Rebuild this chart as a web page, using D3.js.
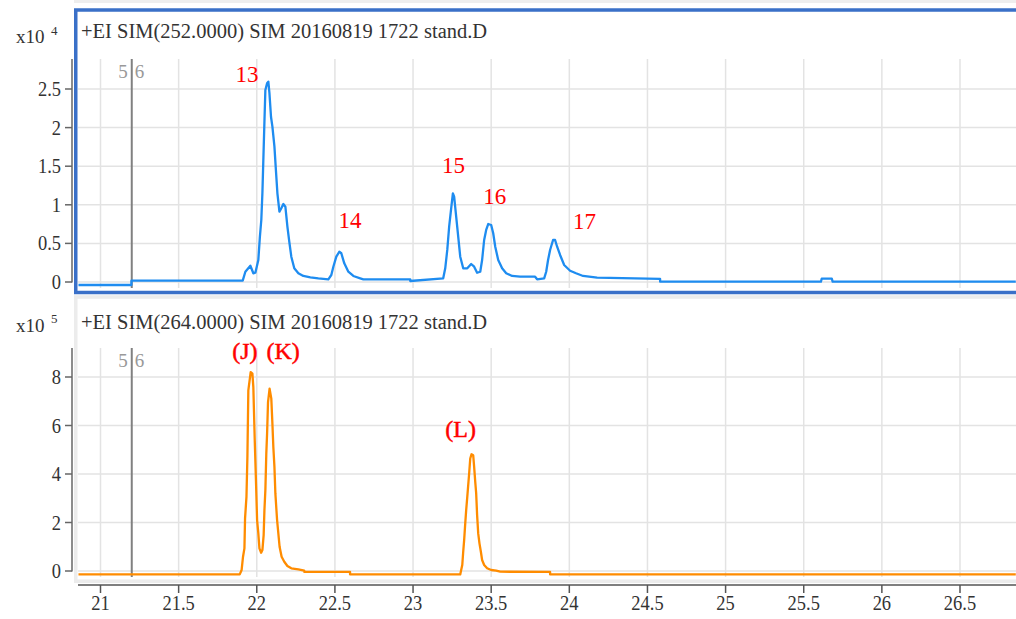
<!DOCTYPE html>
<html>
<head>
<meta charset="utf-8">
<script src="https://cdn.jsdelivr.net/npm/d3@7"></script>
<style>
  body { margin: 0; background: #fff; }
  svg text { font-family: "Liberation Serif", "Times New Roman", Times, serif; }
</style>
</head>
<body>
<svg id="canvas"></svg>
<script>
// retention time (min) and abundance for m/z 252 (x10^4)
const topTime = [20.859, 21.198, 21.198, 21.910, 21.927, 21.959, 21.978, 21.991, 22.010, 22.020,
  22.029, 22.036, 22.042, 22.049, 22.055, 22.066, 22.074, 22.081, 22.091, 22.100,
  22.113, 22.121, 22.132, 22.145, 22.157, 22.170, 22.183, 22.196, 22.208, 22.221,
  22.240, 22.266, 22.298, 22.343, 22.394, 22.458, 22.477, 22.490, 22.509, 22.528,
  22.541, 22.560, 22.586, 22.618, 22.662, 22.682, 22.982, 22.982, 23.193, 23.206,
  23.219, 23.231, 23.244, 23.255, 23.263, 23.276, 23.289, 23.302, 23.321, 23.347,
  23.372, 23.391, 23.410, 23.430, 23.442, 23.455, 23.468, 23.481, 23.500, 23.513,
  23.526, 23.545, 23.570, 23.596, 23.634, 23.685, 23.781, 23.794, 23.839, 23.852,
  23.864, 23.877, 23.896, 23.909, 23.922, 23.941, 23.967, 24.005, 24.043, 24.088,
  24.178, 24.581, 24.581, 25.610, 25.615, 25.680, 25.685, 26.857];
const topValue = [-0.039, -0.039, 0.017, 0.017, 0.133, 0.211, 0.113, 0.120, 0.285, 0.587,
  0.803, 1.153, 1.580, 2.076, 2.487, 2.574, 2.595, 2.448, 2.141, 2.012,
  1.753, 1.494, 1.149, 0.911, 0.955, 1.010, 0.975, 0.716, 0.522, 0.328,
  0.177, 0.113, 0.078, 0.061, 0.048, 0.035, 0.091, 0.198, 0.328, 0.392,
  0.372, 0.242, 0.133, 0.078, 0.048, 0.035, 0.035, 0.013, 0.048, 0.177,
  0.415, 0.716, 0.955, 1.149, 1.105, 0.846, 0.587, 0.328, 0.177, 0.177,
  0.233, 0.198, 0.120, 0.133, 0.285, 0.544, 0.674, 0.751, 0.738, 0.631,
  0.457, 0.285, 0.177, 0.113, 0.078, 0.069, 0.069, 0.035, 0.048, 0.133,
  0.285, 0.415, 0.544, 0.544, 0.457, 0.350, 0.220, 0.146, 0.113, 0.078,
  0.056, 0.040, 0.004, 0.004, 0.043, 0.043, 0.004, 0.004];

// retention time (min) and abundance for m/z 264 (x10^5)
const bottomTime = [20.859, 21.891, 21.903, 21.912, 21.921, 21.925, 21.934, 21.940, 21.946, 21.961,
  21.972, 21.978, 21.987, 21.996, 22.002, 22.010, 22.017, 22.028, 22.036, 22.044,
  22.049, 22.055, 22.061, 22.066, 22.072, 22.082, 22.093, 22.100, 22.106, 22.113,
  22.119, 22.130, 22.138, 22.146, 22.159, 22.176, 22.196, 22.221, 22.266, 22.304,
  22.304, 22.597, 22.597, 23.302, 23.308, 23.315, 23.321, 23.327, 23.334, 23.340,
  23.347, 23.353, 23.359, 23.366, 23.374, 23.385, 23.391, 23.398, 23.404, 23.410,
  23.417, 23.425, 23.434, 23.442, 23.455, 23.474, 23.500, 23.532, 23.558, 23.877,
  23.877, 26.857];
const bottomValue = [-0.14, -0.14, 0.041, 0.588, 0.934, 2.169, 3.058, 4.704, 7.449, 8.202,
  8.136, 7.584, 5.391, 3.469, 2.099, 1.551, 0.934, 0.753, 0.864, 1.481,
  2.510, 3.333, 4.844, 5.667, 6.967, 7.519, 7.107, 6.078, 5.115, 4.292,
  3.198, 2.099, 1.551, 1.000, 0.588, 0.383, 0.206, 0.111, 0.070, 0.012,
  -0.04, -0.04, -0.14, -0.14, 0.041, 0.247, 0.794, 1.276, 1.963, 2.510,
  3.058, 3.539, 4.021, 4.638, 4.815, 4.774, 4.292, 3.675, 3.198, 2.305,
  1.551, 1.140, 0.794, 0.453, 0.247, 0.111, 0.041, 0.012, -0.029, -0.04,
  -0.14, -0.14];

// peak labels (position in data units)
const topLabels = ["13", "14", "15", "16", "17"];
const topLabelTime = [21.864, 22.523, 23.186, 23.450, 24.023];
const topLabelValue = [2.591, 0.699, 1.416, 1.010, 0.687];
const bottomLabels = ["(J)", "(K)", "(L)"];
const bottomLabelTime = [21.843, 22.062, 23.206];
const bottomLabelValue = [8.724, 8.724, 5.514];

const xTicks = [21, 21.5, 22, 22.5, 23, 23.5, 24, 24.5, 25, 25.5, 26, 26.5];
const topYTicks = [0, 0.5, 1, 1.5, 2, 2.5];
const bottomYTicks = [0, 2, 4, 6, 8];
const markerTime = 21.2;

const topTitle = "+EI SIM(252.0000) SIM 20160819 1722 stand.D";
const bottomTitle = "+EI SIM(264.0000) SIM 20160819 1722 stand.D";

const width = 1016, height = 619;
const svg = d3.select("#canvas").attr("width", width).attr("height", height)
  .attr("font-family", "'Liberation Serif', 'Times New Roman', serif");

const plotLeft = 78, plotRight = 1016;
const x = d3.scaleLinear().domain([21, 26.5]).range([100.5, 960]);

// panel frames
svg.append("rect").attr("x", 74).attr("y", 0).attr("width", 950).attr("height", 3).attr("fill", "#eeeeee");
svg.append("rect")
  .attr("x", 75.75).attr("y", 297)
  .attr("width", 960).attr("height", 284.2)
  .attr("fill", "none").attr("stroke", "#ececec").attr("stroke-width", 3.5);
svg.append("rect")
  .attr("x", 75.75).attr("y", 10)
  .attr("width", 960).attr("height", 282.5)
  .attr("fill", "none").attr("stroke", "#3a70c8").attr("stroke-width", 3.5);

function drawPanel(o) {
  const y = d3.scaleLinear().domain(o.domain).range(o.range);
  const g = svg.append("g");

  // grid
  g.selectAll(".vgrid").data(xTicks).join("line")
    .attr("x1", d => x(d)).attr("x2", d => x(d))
    .attr("y1", o.gridTop).attr("y2", o.gridBottom)
    .attr("stroke", "#e3e3e3").attr("stroke-width", 1.5);
  g.selectAll(".hgrid").data(o.yTicks).join("line")
    .attr("x1", plotLeft).attr("x2", plotRight)
    .attr("y1", d => y(d)).attr("y2", d => y(d))
    .attr("stroke", "#e3e3e3").attr("stroke-width", 1.5);

  // y axis
  g.append("line")
    .attr("x1", 72).attr("x2", 72)
    .attr("y1", o.gridTop).attr("y2", y(0) + 0.5)
    .attr("stroke", "#666").attr("stroke-width", 1.5);
  g.selectAll(".ytick").data(o.yTicks).join("line")
    .attr("x1", 65).attr("x2", 72)
    .attr("y1", d => y(d)).attr("y2", d => y(d))
    .attr("stroke", "#666").attr("stroke-width", 1.5);
  // narrow, tall digits like the original
  g.selectAll(".ylab").data(o.yTicks).join("text")
    .attr("transform", d => `translate(61,${y(d) + 7}) scale(0.88,1)`)
    .attr("text-anchor", "end").attr("font-size", 21).attr("fill", "#333")
    .text(d => d);

  // exponent
  g.append("text").attr("x", 16).attr("y", o.expY).attr("font-size", 19).attr("fill", "#333").text("x10");
  g.append("text").attr("x", 51).attr("y", o.expY - 8.5).attr("font-size", 13).attr("fill", "#333").text(o.exp);

  // title
  g.append("text").attr("x", 81).attr("y", o.titleY)
    .attr("font-size", 20.5).attr("fill", "#333").text(o.title);

  // 5|6 marker
  g.append("line")
    .attr("x1", x(markerTime)).attr("x2", x(markerTime))
    .attr("y1", o.gridTop).attr("y2", o.gridBottom)
    .attr("stroke", "#808080").attr("stroke-width", 2);
  g.append("text").attr("x", x(markerTime) - 4).attr("y", o.gridTop + 19)
    .attr("text-anchor", "end").attr("font-size", 19).attr("fill", "#999").text("5");
  g.append("text").attr("x", x(markerTime) + 3).attr("y", o.gridTop + 19)
    .attr("font-size", 19).attr("fill", "#999").text("6");

  // trace
  const pts = o.time.map((t, i) => [t, o.value[i]]);
  g.append("path")
    .attr("d", d3.line().x(d => x(d[0])).y(d => y(d[1]))(pts))
    .attr("fill", "none").attr("stroke", o.color)
    .attr("stroke-width", 2.3).attr("stroke-linejoin", "round");

  // peak labels
  g.selectAll(".peak").data(o.labels).join("text")
    .attr("x", (d, i) => x(o.labelTime[i]))
    .attr("y", (d, i) => y(o.labelValue[i]))
    .attr("font-size", o.labelSize).attr("fill", "#ff0000")
    .attr("stroke", o.labelStroke ? "#ff0000" : "none").attr("stroke-width", 0.5)
    .text(d => d);
}

drawPanel({
  domain: [0, 2.5], range: [282, 89], yTicks: topYTicks,
  gridTop: 59, gridBottom: 288, expY: 43, exp: "4", titleY: 38, title: topTitle,
  time: topTime, value: topValue, color: "#1e8cf0",
  labels: topLabels, labelTime: topLabelTime, labelValue: topLabelValue, labelSize: 23, labelStroke: false
});

drawPanel({
  domain: [0, 8], range: [571, 377], yTicks: bottomYTicks,
  gridTop: 348, gridBottom: 577, expY: 331.5, exp: "5", titleY: 329, title: bottomTitle,
  time: bottomTime, value: bottomValue, color: "#ff8c00",
  labels: bottomLabels, labelTime: bottomLabelTime, labelValue: bottomLabelValue, labelSize: 24, labelStroke: true
});

// x axis
svg.append("line")
  .attr("x1", plotLeft).attr("x2", plotRight).attr("y1", 585).attr("y2", 585)
  .attr("stroke", "#555").attr("stroke-width", 1.5);
svg.selectAll(".xtick").data(xTicks).join("line")
  .attr("x1", d => x(d)).attr("x2", d => x(d))
  .attr("y1", 585).attr("y2", 593)
  .attr("stroke", "#555").attr("stroke-width", 1.5);
svg.selectAll(".xlab").data(xTicks).join("text")
  .attr("transform", d => `translate(${x(d)},610) scale(0.88,1)`)
  .attr("text-anchor", "middle").attr("font-size", 21).attr("fill", "#333")
  .text(d => d);
</script>
</body>
</html>
